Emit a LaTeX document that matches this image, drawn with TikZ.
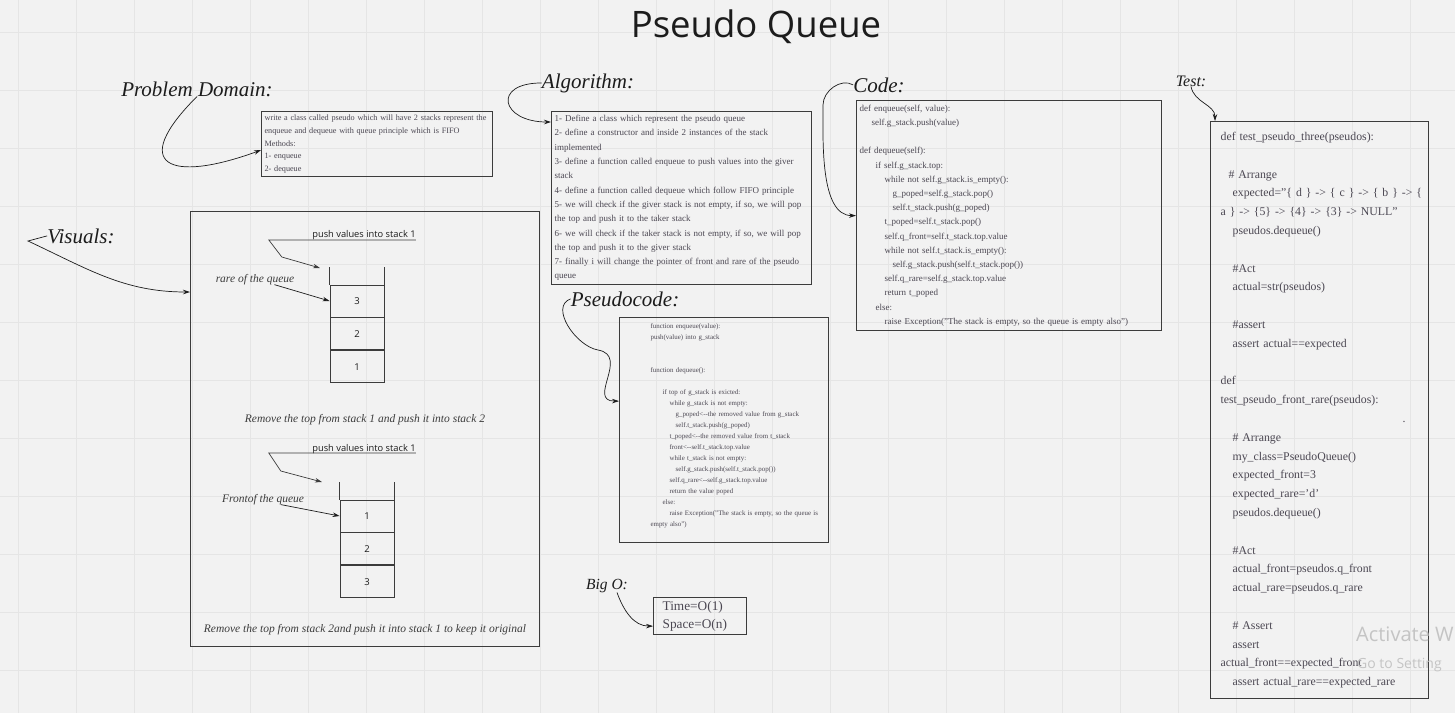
\documentclass[tikz,border=0pt]{standalone}
\usepackage{fontspec}
\setmainfont{Liberation Serif}
\newfontfamily\sansfont{Open Sans}
\usetikzlibrary{positioning,arrows.meta}

\definecolor{paper}{HTML}{F2F2F2}
\definecolor{rule}{HTML}{E5E5E5}
\definecolor{frame}{HTML}{3C3C3C}
\definecolor{body}{HTML}{4B4752}
\definecolor{ink}{HTML}{1C1C1C}
\definecolor{ghost}{HTML}{C4C4C4}

\tikzset{
  panel/.style={draw=frame, line width=1.2pt, anchor=north west, inner xsep=3pt, inner ysep=0pt, align=left, text=body},
  hand/.style={anchor=base, inner sep=0pt, text=ink, font=\itshape\fontsize{21}{21}\selectfont},
  note/.style={anchor=base, inner sep=0pt, text=frame, font=\itshape\fontsize{11.5}{11.5}\selectfont},
  sanslabel/.style={anchor=base, inner sep=0pt, text=ink, font=\sansfont\fontsize{9.3}{9.3}\selectfont},
  pointer/.style={draw=ink, line width=0.7pt, -{Stealth[length=7pt,width=4.5pt]}},
  cell/.style={draw=frame, line width=0.8pt, minimum width=54pt, minimum height=32pt, inner sep=0pt, text=ink, font=\sansfont\fontsize{9.5}{9.5}\selectfont},
  stackwall/.style={draw=frame, line width=0.8pt},
}

\begin{document}
\begin{tikzpicture}[x=1pt,y=-1pt]
  \useasboundingbox (0,0) rectangle (1455,713);
  \fill[paper] (0,0) rectangle (1455,713);
  \foreach \gx in {18,76,...,1455} \draw[rule, line width=0.6pt] (\gx,0) -- (\gx,713);
  \foreach \gy in {32,90,...,713} \draw[rule, line width=0.6pt] (0,\gy) -- (1455,\gy);

  \draw node[anchor=base, inner sep=0pt, text=ink, font=\sansfont\fontsize{36.5}{36.5}\selectfont] (title) at (756,37) {Pseudo Queue};

  \draw node[hand] (pdlab) at (197,96) {Problem Domain:};
  \draw node[panel, minimum width=231pt, minimum height=65pt, text width=225pt, font=\fontsize{8.2}{12.8}\selectfont] (prob) at (261,111) {write a class called pseudo which will have 2 stacks represent the\\
  enqueue and dequeue with queue principle which is FIFO\\
  Methods:\\
  1- enqueue\\
  2- dequeue};
  \draw [pointer] (pdlab.south) to [out=225,in=200,looseness=3] ([yshift=-6pt]prob.west);

  \draw node[hand] (alglab) at (588,88) {Algorithm:};
  \draw node[panel, minimum width=260pt, minimum height=173pt, text width=254pt, font=\fontsize{9}{14.3}\selectfont] (alg) at (551,111) {1- Define a class which represent the pseudo queue\\
  2- define a constructor and inside 2 instances of the stack\\
  implemented\\
  3- define a function called enqueue to push values into the giver\\
  stack\\
  4- define a function called dequeue which follow FIFO principle\\
  5- we will check if the giver stack is not empty, if so, we will pop\\
  the top and push it to the taker stack\\
  6- we will check if the taker stack is not empty, if so, we will pop\\
  the top and push it to the giver stack\\
  7- finally i will change the pointer of front and rare of the pseudo\\
  queue};
  \draw [pointer] (alglab.west) to [out=180,in=180,looseness=3.2] ([yshift=-11pt]alg.north west);

  \draw node[hand] (codelab) at (879,92) {Code:};
  \draw node[panel, minimum width=305pt, minimum height=230pt, text width=299pt, font=\fontsize{9}{14.2}\selectfont] (code) at (856,100) {def enqueue(self, value):\\
  \hspace*{12pt}self.g\_stack.push(value)\\
  \mbox{}\\
  def dequeue(self):\\
  \hspace*{16pt}if self.g\_stack.top:\\
  \hspace*{25pt}while not self.g\_stack.is\_empty():\\
  \hspace*{33pt}g\_poped=self.g\_stack.pop()\\
  \hspace*{33pt}self.t\_stack.push(g\_poped)\\
  \hspace*{25pt}t\_poped=self.t\_stack.pop()\\
  \hspace*{25pt}self.q\_front=self.t\_stack.top.value\\
  \hspace*{25pt}while not self.t\_stack.is\_empty():\\
  \hspace*{33pt}self.g\_stack.push(self.t\_stack.pop())\\
  \hspace*{25pt}self.q\_rare=self.g\_stack.top.value\\
  \hspace*{25pt}return t\_poped\\
  \hspace*{16pt}else:\\
  \hspace*{25pt}raise Exception("The stack is empty, so the queue is empty also")};
  \draw [pointer] (codelab.west) to [out=150,in=90] (823,105) to [out=270,in=180,looseness=0.8] (code.west);

  \draw node[hand, font=\itshape\fontsize{16}{16}\selectfont] (testlab) at (1191,86) {Test:};
  \draw node[panel, minimum width=218pt, minimum height=577pt, text width=212pt, font=\fontsize{11.8}{18.8}\selectfont] (test) at (1210,121) {\hspace*{7pt}def test\_pseudo\_three(pseudos):\\
  \mbox{}\\
  \hspace*{15pt}\# Arrange\\
  \mbox{\hspace*{19pt}expected="\{ d \} -> \{ c \} -> \{ b \} -> \{}\\
  \hspace*{7pt}a \} -> \{5\} -> \{4\} -> \{3\} -> NULL"\\
  \hspace*{19pt}pseudos.dequeue()\\
  \mbox{}\\
  \hspace*{19pt}\#Act\\
  \hspace*{19pt}actual=str(pseudos)\\
  \mbox{}\\
  \hspace*{19pt}\#assert\\
  \hspace*{19pt}assert actual==expected\\
  \mbox{}\\
  \hspace*{7pt}def\\
  \hspace*{7pt}test\_pseudo\_front\_rare(pseudos):\\
  \hspace*{189pt}.\\
  \hspace*{19pt}\# Arrange\\
  \hspace*{19pt}my\_class=PseudoQueue()\\
  \hspace*{19pt}expected\_front=3\\
  \hspace*{19pt}expected\_rare='d'\\
  \hspace*{19pt}pseudos.dequeue()\\
  \mbox{}\\
  \hspace*{19pt}\#Act\\
  \hspace*{19pt}actual\_front=pseudos.q\_front\\
  \hspace*{19pt}actual\_rare=pseudos.q\_rare\\
  \mbox{}\\
  \hspace*{19pt}\# Assert\\
  \hspace*{19pt}assert\\
  \hspace*{7pt}actual\_front==expected\_front\\
  \hspace*{19pt}assert actual\_rare==expected\_rare};
  \draw [pointer] (testlab.south) to [out=-80,in=90] ([xshift=5pt]test.north west);

  \draw node[hand] (vislab) at (81,243) {Visuals:};
  \draw node[draw=frame, line width=1.2pt, anchor=north west, minimum width=349pt, minimum height=435pt, inner sep=0pt] (vis) at (190,211) {};
  \draw [pointer] (vislab.west) -- (28,241) to [out=-25,in=180] ([yshift=-81pt]vis.north west);

  \draw node[sanslabel] (push1) at (364,237) {push values into stack 1};
  \coordinate (tip1) at (320,268);
  \draw [pointer, draw=frame] ([yshift=-3pt]push1.base east) -- ++(-147,0) -- ++(13,17) -- (tip1);
  \draw node[cell] (s1c3) at (357,301) {3};
  \draw node[cell, below=0pt of s1c3] (s1c2) {2};
  \draw node[cell, below=0pt of s1c2] (s1c1) {1};
  \draw [stackwall] (s1c3.north west) -- ++(0,-18);
  \draw [stackwall] (s1c3.north east) -- ++(0,-18);
  \draw node[note] (rare) at (255,282) {rare of the queue};
  \draw [pointer] ([xshift=-20pt]rare.south east) -- (s1c3.west);
  \draw node[note] (rem1) at (365,422) {Remove the top from stack 1 and push it into stack 2};

  \draw node[sanslabel] (push2) at (364,451) {push values into stack 1};
  \coordinate (tip2) at (322,482);
  \draw [pointer, draw=frame] ([yshift=-2pt]push2.base east) -- ++(-147,0) -- ++(12,18) -- (tip2);
  \draw node[cell] (s2c1) at (367,516) {1};
  \draw node[cell, below=0pt of s2c1] (s2c2) {2};
  \draw node[cell, below=0pt of s2c2] (s2c3) {3};
  \draw [stackwall] (s2c1.north west) -- ++(0,-18);
  \draw [stackwall] (s2c1.north east) -- ++(0,-18);
  \draw node[note] (front) at (263,502) {Frontof the queue};
  \draw [pointer] ([xshift=-23pt]front.south east) -- (s2c1.west);
  \draw node[note] (rem2) at (365,632) {Remove the top from stack 2and push it into stack 1 to keep it original};

  \draw node[hand] (pslab) at (625,306) {Pseudocode:};
  \draw node[panel, minimum width=209pt, minimum height=225pt, text width=203pt, font=\fontsize{6.9}{11}\selectfont] (ps) at (619,317) {\hspace*{28pt}function enqueue(value):\\
  \hspace*{28pt}push(value) into g\_stack\\
  \mbox{}\\
  \mbox{}\\
  \hspace*{28pt}function dequeue():\\
  \mbox{}\\
  \hspace*{40pt}if top of g\_stack is exicted:\\
  \hspace*{47pt}while g\_stack is not empty:\\
  \hspace*{53pt}g\_poped<-{}-the removed value from g\_stack\\
  \hspace*{53pt}self.t\_stack.push(g\_poped)\\
  \hspace*{47pt}t\_poped<-{}-the removed value from t\_stack\\
  \hspace*{47pt}front<-{}-self.t\_stack.top.value\\
  \hspace*{47pt}while t\_stack is not empty:\\
  \hspace*{53pt}self.g\_stack.push(self.t\_stack.pop())\\
  \hspace*{47pt}self.q\_rare<-{}-self.g\_stack.top.value\\
  \hspace*{47pt}return the value poped\\
  \hspace*{40pt}else:\\
  \hspace*{47pt}raise Exception("The stack is empty, so the queue is\\
  \hspace*{28pt}empty also")\\
  \mbox{}};
  \draw [pointer] (pslab.west) to [out=200,in=170] (598,350) to [out=-10,in=180,looseness=1.5] ([yshift=29pt]ps.west);

  \draw node[hand, font=\itshape\fontsize{15.5}{15.5}\selectfont] (bolab) at (607,589) {Big O:};
  \draw node[panel, minimum width=93pt, minimum height=37pt, text width=87pt, font=\fontsize{13.3}{18}\selectfont] (bo) at (653,597) {\hspace*{6pt}Time=O(1)\\
  \hspace*{6pt}Space=O(n)};
  \draw [pointer] ([xshift=10pt]bolab.south) to [out=-70,in=180] ([yshift=-10pt]bo.west);

  \draw node[anchor=base west, inner sep=0pt, text=ghost, font=\sansfont\fontsize{20}{20}\selectfont] (wm1) at (1356,641) {Activate W};
  \draw node[anchor=base west, inner sep=0pt, text=ghost, font=\sansfont\fontsize{14}{14}\selectfont] (wm2) at (1357,668) {Go to Setting};
\end{tikzpicture}
\end{document}
